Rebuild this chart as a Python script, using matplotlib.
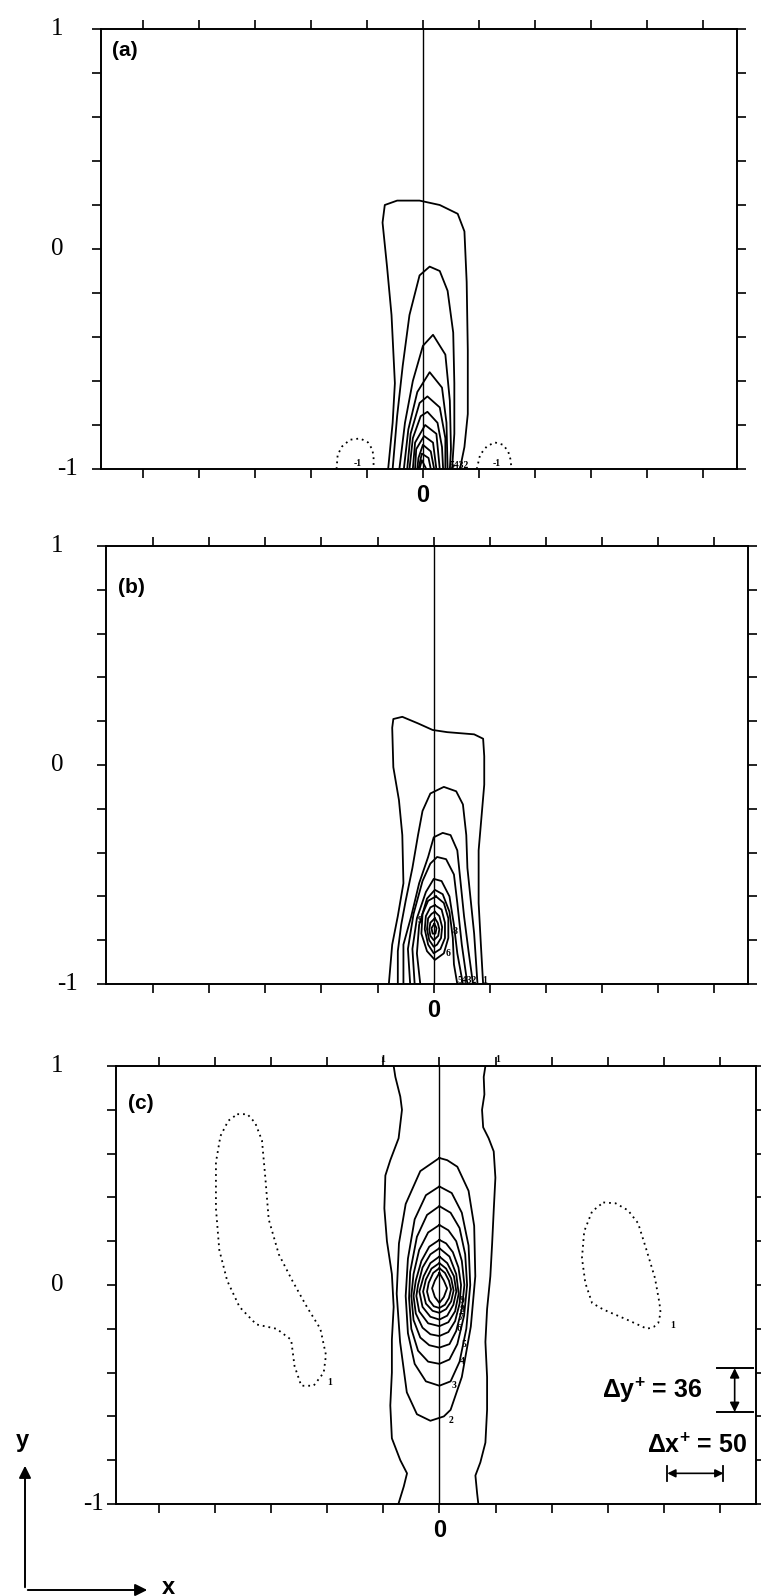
import matplotlib
matplotlib.use("Agg")
import matplotlib.pyplot as plt
from matplotlib.transforms import blended_transform_factory

plt.rcParams['mathtext.fontset'] = 'custom'
plt.rcParams['mathtext.rm'] = 'Liberation Sans:bold'
plt.rcParams['mathtext.it'] = 'Liberation Sans:bold'
plt.rcParams['mathtext.bf'] = 'Liberation Sans:bold'
plt.rcParams['mathtext.default'] = 'bf'

# x: spanwise distance in wall units (one tick = 50), y: channel height -1..1
x_ticks = [-250, -200, -150, -100, -50, 0, 50, 100, 150, 200, 250]
y_ticks = [-1, -0.8, -0.6, -0.4, -0.2, 0, 0.2, 0.4, 0.6, 0.8, 1]
y_labels = {1: '1', 0: '0', -1: '-1'}
panel_names = ['(a)', '(b)', '(c)']

re_tau = 180
dy_plus = 36
dx_plus = 50

# ---- panel (a) contours (solid = positive, dotted = negative)
a_solid = [
    [(-31, -1), (-27, -0.79), (-25, -0.61), (-28, -0.30), (-32, -0.08), (-36, 0.12), (-34, 0.20), (-23, 0.22),
     (-3, 0.22), (15, 0.20), (31, 0.16), (37, 0.08), (39, -0.15), (40, -0.46), (40, -0.75), (37, -0.90), (33, -1)],
    [(-27, -1), (-23, -0.76), (-18, -0.53), (-12, -0.30), (-3, -0.12), (6, -0.08), (15, -0.10), (22, -0.19),
     (27, -0.38), (28, -0.61), (28, -0.84), (26, -1)],
    [(-21, -1), (-16, -0.79), (-9, -0.60), (0, -0.44), (9, -0.39), (20, -0.48), (24, -0.69), (25, -0.91), (24, -1)],
    [(-17, -1), (-13, -0.82), (-5, -0.65), (6, -0.56), (17, -0.63), (21, -0.79), (22, -1)],
    [(-14, -1), (-11, -0.84), (-3, -0.70), (4, -0.67), (15, -0.72), (20, -0.86), (20, -1)],
    [(-12, -1), (-9, -0.86), (-2, -0.76), (4, -0.74), (13, -0.79), (17, -0.90), (18, -1)],
    [(-9, -1), (-7, -0.88), (2, -0.80), (12, -0.84), (15, -1)],
    [(-7, -1), (-6, -0.91), (1, -0.85), (9, -0.88), (12, -1)],
    [(-5, -1), (-4, -0.95), (0, -0.89), (7, -0.92), (10, -1)],
    [(-4, -1), (-1, -0.93), (5, -0.95), (7, -1)],
    [(-3, -1), (-1, -0.96), (3, -1)],
]
a_dotted = [
    [(-77, -1), (-76, -0.935), (-72, -0.897), (-65, -0.867), (-56, -0.861), (-49, -0.879), (-45, -0.912),
     (-44, -0.95), (-44, -1)],
    [(48, -1), (51, -0.935), (57, -0.897), (64, -0.879), (71.5, -0.89), (76, -0.92), (78, -0.955), (79, -1)],
]
a_tags = [(-62, -0.975, '-1'), (24, -0.985, '5432'), (62, -0.975, '-1')]

# ---- panel (b)
b_solid = [
    [(-40, -1), (-37, -0.82), (-32, -0.69), (-27, -0.54), (-28, -0.32), (-31, -0.16), (-36, -0.01), (-37, 0.17),
     (-36, 0.21), (-28, 0.22), (-14, 0.19), (-1, 0.16), (12, 0.15), (36, 0.14), (44, 0.12), (45, 0.04),
     (45, -0.09), (43, -0.21), (40, -0.39), (40, -0.63), (42, -0.82), (44, -1)],
    [(-32, -1), (-32, -0.85), (-29, -0.73), (-25, -0.62), (-19, -0.47), (-14, -0.32), (-10, -0.21), (-3, -0.13),
     (9, -0.10), (20, -0.12), (26, -0.18), (29, -0.32), (30, -0.47), (33, -0.62), (36, -0.77), (39, -1)],
    [(-27, -1), (-27, -0.82), (-20, -0.69), (-13, -0.54), (-5, -0.42), (0, -0.33), (8, -0.31), (15, -0.32),
     (21, -0.39), (24, -0.54), (27, -0.69), (31, -0.85), (35, -1)],
    [(-21, -1), (-23, -0.84), (-18, -0.68), (-10, -0.53), (-3, -0.45), (3, -0.42), (11, -0.43), (18, -0.50),
     (21, -0.63), (25, -0.82), (30, -1)],
    [(-17, -1), (-19, -0.84), (-15, -0.70), (-7, -0.58), (0, -0.52), (7, -0.53), (14, -0.60), (18, -0.73),
     (21, -0.86), (26, -1)],
    [(-12, -1), (-15, -0.86), (-13, -0.73), (-6, -0.61), (1, -0.57), (8, -0.59), (14, -0.67), (17, -0.79),
     (18, -0.91), (21, -1)],
    [(2, -0.60), (9, -0.63), (13, -0.70), (13, -0.79), (9, -0.86), (1, -0.89), (-6, -0.85), (-11, -0.77),
     (-10, -0.68), (-5, -0.62), (2, -0.60)],
    [(1, -0.64), (7, -0.66), (10, -0.72), (10, -0.79), (6, -0.84), (0, -0.86), (-5, -0.82), (-8, -0.75),
     (-7, -0.69), (-3, -0.65), (1, -0.64)],
    [(1, -0.67), (5, -0.69), (7.5, -0.74), (6.5, -0.79), (3, -0.82), (0, -0.83), (-4, -0.80), (-6, -0.75),
     (-5, -0.70), (-2, -0.68), (1, -0.67)],
    [(1, -0.70), (3.5, -0.72), (5, -0.75), (4, -0.78), (0, -0.80), (-3, -0.78), (-4, -0.75), (-3, -0.72),
     (1, -0.70)],
    [(0.5, -0.725), (2.5, -0.745), (1.5, -0.77), (-1, -0.77), (-2, -0.745), (0.5, -0.725)],
]
b_dotted = []
b_tags = [(-14, -0.71, '9'), (17, -0.76, '8'), (11, -0.86, '6'), (21, -0.985, '5432'), (43, -0.985, '1')]

# ---- panel (c)
c_solid = [
    [(-40.7, 1.0), (-39.2, 0.95), (-34.8, 0.86), (-33.3, 0.80), (-36.3, 0.67), (-43.7, 0.57), (-48.1, 0.50),
     (-49, 0.35), (-46.7, 0.20), (-42.3, 0.05), (-40.7, -0.10), (-42.3, -0.25), (-42.3, -0.40), (-43.7, -0.55),
     (-42.3, -0.70), (-34.8, -0.80), (-28.8, -0.86), (-31.7, -0.92), (-36.5, -1.0)],
    [(41, 1.0), (39.5, 0.95), (40.1, 0.87), (38, 0.80), (39, 0.72), (43.9, 0.67), (48.4, 0.61), (49.9, 0.49),
     (48.4, 0.34), (47, 0.19), (45.4, 0.04), (42.5, -0.11), (41, -0.26), (42.5, -0.42), (42.5, -0.57),
     (41, -0.72), (36.5, -0.81), (32.1, -0.87), (33.6, -0.95), (34.7, -1.0)],
    [(0, 0.58), (-17, 0.52), (-30, 0.37), (-36, 0.19), (-38, -0.04), (-35, -0.26), (-29, -0.49), (-20, -0.59),
     (-8, -0.62), (4, -0.60), (10, -0.57), (20, -0.42), (28, -0.19), (32, 0.04), (31, 0.27), (26, 0.43),
     (16, 0.54), (7, 0.57), (0, 0.58)],
    [(0, 0.45), (-12, 0.41), (-22, 0.30), (-28, 0.12), (-30, -0.05), (-28, -0.22), (-22, -0.36), (-12, -0.44),
     (0, -0.46), (10, -0.44), (18, -0.35), (24, -0.20), (27.5, 0), (26, 0.18), (20, 0.33), (11, 0.42), (0, 0.45)],
    [(0, 0.36), (-11, 0.32), (-20, 0.22), (-26, 0.06), (-27, -0.06), (-25, -0.20), (-19, -0.30), (-10, -0.35),
     (0, -0.36), (9, -0.34), (16, -0.27), (22, -0.14), (24.7, 0), (23, 0.14), (18, 0.26), (10, 0.33), (0, 0.36)],
    [(0, 0.274), (-10, 0.24), (-18, 0.16), (-23, 0.05), (-25, -0.05), (-23, -0.16), (-17, -0.24), (-9, -0.275),
     (0, -0.286), (9, -0.27), (15, -0.21), (20, -0.11), (22.3, 0), (20, 0.11), (15, 0.2), (8, 0.25), (0, 0.274)],
    [(0, 0.206), (-9, 0.175), (-16, 0.11), (-21, 0.02), (-23, -0.05), (-21, -0.13), (-15, -0.195), (-8, -0.225),
     (0, -0.233), (8, -0.215), (14, -0.165), (18, -0.085), (19.3, 0), (17, 0.08), (12, 0.15), (6, 0.19),
     (0, 0.206)],
    [(0, 0.168), (-8, 0.14), (-15, 0.08), (-19, 0.0), (-20.5, -0.05), (-18, -0.12), (-10, -0.175), (0, -0.188),
     (8, -0.17), (14, -0.12), (17.2, -0.04), (15, 0.05), (9, 0.13), (0, 0.168)],
    [(0, 0.13), (-8, 0.10), (-14, 0.04), (-17.8, -0.03), (-15, -0.10), (-8, -0.145), (0, -0.158), (7, -0.14),
     (12.5, -0.09), (15.1, -0.03), (13, 0.04), (7, 0.10), (0, 0.13)],
    [(0, 0.10), (-7, 0.075), (-12, 0.025), (-14.5, -0.03), (-12, -0.085), (-6, -0.118), (0, -0.127), (6, -0.11),
     (10.5, -0.075), (12.7, -0.025), (10.5, 0.03), (6, 0.075), (0, 0.10)],
    [(0, 0.077), (-5.5, 0.055), (-9.5, 0.01), (-11, -0.03), (-9, -0.07), (-5, -0.097), (0, -0.105), (5, -0.09),
     (8.5, -0.06), (10.4, -0.02), (8.5, 0.02), (5, 0.055), (0, 0.077)],
    [(0, 0.055), (-4, 0.02), (-6.5, -0.015), (-4, -0.055), (0, -0.082), (4, -0.055), (6.9, -0.015), (4, 0.02),
     (0, 0.055)],
]
c_dotted = [
    [(-180, 0.78), (-171, 0.78), (-164, 0.74), (-158, 0.66), (-155, 0.49), (-152, 0.30), (-143, 0.14),
     (-131, 0.02), (-118, -0.10), (-106, -0.20), (-101, -0.32), (-103, -0.40), (-112, -0.46), (-123, -0.46),
     (-129, -0.37), (-132, -0.25), (-145, -0.20), (-163, -0.18), (-178, -0.10), (-189, 0.02), (-196, 0.16),
     (-199, 0.35), (-199, 0.56), (-195, 0.68), (-188, 0.75), (-180, 0.78)],
    [(146, 0.377), (157, 0.373), (168, 0.341), (177, 0.282), (184, 0.168), (192, 0.032), (196, -0.082),
     (197, -0.127), (195, -0.173), (191, -0.191), (185, -0.2), (167, -0.158), (146, -0.112), (136, -0.082),
     (130, 0.009), (127, 0.123), (129, 0.245), (136, 0.336), (146, 0.377)],
]
c_tags = [(8, -0.62, '2'), (10.5, -0.46, '3'), (18.7, -0.35, '4'), (20.2, -0.27, '5'), (15.8, -0.20, '6'),
          (17, -0.15, '7'), (18, -0.11, '8'), (18, -0.07, '9'), (-100, -0.445, '1'), (206, -0.186, '1'),
          (-53, 1.03, '1'), (50, 1.03, '1')]

W, H = 761, 1596
fig = plt.figure(figsize=(W / 100, H / 100), dpi=100)

# panel boxes in pixels: left, top, width, height, and x range of each box
boxes = [(101, 29, 636, 440), (106, 546, 642, 438), (116, 1066, 640, 438)]
xlims = [(-287, 280), (-292, 280), (-288, 282)]
minus_one_right = [78, 78, 104]
name_y = [0.95, 0.905, 0.915]
solids = [a_solid, b_solid, c_solid]
dotteds = [a_dotted, b_dotted, c_dotted]
tags = [a_tags, b_tags, c_tags]

axes = []
for i, (l, t, w, h) in enumerate(boxes):
    ax = fig.add_axes([l / W, 1 - (t + h) / H, w / W, h / H])
    ax.set_xlim(*xlims[i])
    ax.set_ylim(-1, 1)
    ax.set_xticks(x_ticks)
    ax.set_xticklabels(['0' if v == 0 else '' for v in x_ticks], fontfamily='Liberation Sans',
                       fontweight='bold', fontsize=17)
    ax.set_yticks(y_ticks)
    ax.set_yticklabels([])
    ax.tick_params(direction='out', length=6.5, width=1.2, top=True, right=True, pad=4)
    for s in ax.spines.values():
        s.set_linewidth(1.4)
    ax.axvline(0, color='k', lw=1.0)

    for line in solids[i]:
        ax.plot([p[0] for p in line], [p[1] for p in line], color='k', lw=1.3, solid_joinstyle='round')
    for line in dotteds[i]:
        ax.plot([p[0] for p in line], [p[1] for p in line], color='k', lw=1.3, ls=(0, (1, 2.2)))
    for x, y, s in tags[i]:
        ax.text(x, y, s, fontsize=7, fontfamily='Liberation Serif', fontweight='bold',
                ha='left', va='center', clip_on=False)

    # y labels sit at fixed page positions left of the box
    tr = blended_transform_factory(fig.transFigure, ax.transData)
    for v, s in y_labels.items():
        xr = minus_one_right[i] if v == -1 else 63
        ax.text(xr / W, v, s, transform=tr, ha='right', va='center', fontsize=18,
                fontfamily='Liberation Serif')

    ax.text(0.018, name_y[i], panel_names[i], transform=ax.transAxes, fontsize=15,
            fontfamily='Liberation Sans', fontweight='bold', ha='left', va='center')
    axes.append(ax)

# scale bars in panel (c)
ax = axes[2]
bar_h = dy_plus / re_tau
y_top, y_bot = -0.38, -0.38 - bar_h
ax.plot([247, 279], [y_top, y_top], color='k', lw=1.4)
ax.plot([247, 279], [y_bot, y_bot], color='k', lw=1.4)
ax.annotate('', xy=(263, y_top), xytext=(263, y_bot),
            arrowprops=dict(arrowstyle='<|-|>', color='k', lw=1.2, mutation_scale=14, shrinkA=0, shrinkB=0))
ax.text(234, (y_top + y_bot) / 2, r'$\Delta y^{+}$ = 36', fontsize=18, fontfamily='Liberation Sans',
        fontweight='bold', ha='right', va='center')

x0 = 203
y_arr = -0.86
ax.plot([x0, x0], [y_arr - 0.035, y_arr + 0.035], color='k', lw=1.3)
ax.plot([x0 + dx_plus, x0 + dx_plus], [y_arr - 0.035, y_arr + 0.035], color='k', lw=1.3)
ax.annotate('', xy=(x0, y_arr), xytext=(x0 + dx_plus, y_arr),
            arrowprops=dict(arrowstyle='<|-|>', color='k', lw=1.2, mutation_scale=12, shrinkA=0, shrinkB=0))
ax.text(230, -0.735, r'$\Delta x^{+}$ = 50', fontsize=18, fontfamily='Liberation Sans',
        fontweight='bold', ha='center', va='center')

# coordinate indicator in the lower left corner
ox, oy = 25 / W, 1 - 1590 / H
fig.add_artist(matplotlib.patches.FancyArrowPatch((ox, oy), (ox, 1 - 1463 / H), transform=fig.transFigure,
                                                  arrowstyle='-|>', mutation_scale=18, lw=1.4, color='k'))
fig.add_artist(matplotlib.patches.FancyArrowPatch((ox, oy), (150 / W, oy), transform=fig.transFigure,
                                                  arrowstyle='-|>', mutation_scale=18, lw=1.4, color='k'))
fig.text(22 / W, 1 - 1440 / H, 'y', fontsize=17, fontfamily='Liberation Sans', fontweight='bold',
         ha='center', va='center')
fig.text(168 / W, 1 - 1587 / H, 'x', fontsize=17, fontfamily='Liberation Sans', fontweight='bold',
         ha='center', va='center')

fig.savefig('out.png', dpi=100)
